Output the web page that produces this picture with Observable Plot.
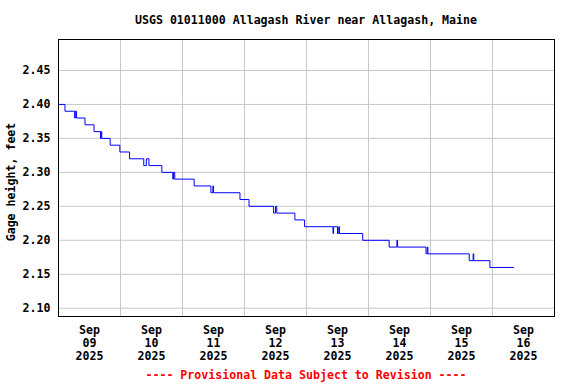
<!DOCTYPE html>
<html><head><meta charset="utf-8">
<script src="https://cdn.jsdelivr.net/npm/d3@7"></script>
<script src="https://cdn.jsdelivr.net/npm/@observablehq/plot@0.6"></script>
<style>
body{margin:0;background:#fff;}
#wrap{position:relative;width:576px;height:384px;font-family:"DejaVu Sans Mono",monospace;font-weight:bold;}
.ov{position:absolute;left:0;width:612px;text-align:center;font-size:11.6px;line-height:14px;white-space:pre;}
#title{top:13px;color:#000;}
#foot{top:368px;color:#f00;}
</style></head>
<body><div id="wrap"><div id="chart"></div>
<div class="ov" id="title">USGS 01011000 Allagash River near Allagash, Maine</div>
<div class="ov" id="foot">---- Provisional Data Subject to Revision ----</div></div>
<script>
const titleText = "USGS 01011000 Allagash River near Allagash, Maine";
const yLabel = "Gage height, feet";
const times = [
"2025-09-09T00:00","2025-09-09T02:30","2025-09-09T06:15","2025-09-09T06:30","2025-09-09T07:00",
"2025-09-09T10:15","2025-09-09T13:45","2025-09-09T16:15","2025-09-09T16:30","2025-09-09T16:45",
"2025-09-09T20:00","2025-09-09T23:45","2025-09-10T03:30","2025-09-10T09:00","2025-09-10T10:00",
"2025-09-10T11:00","2025-09-10T16:00","2025-09-10T20:15","2025-09-10T20:30","2025-09-10T21:00",
"2025-09-11T04:30","2025-09-11T11:00","2025-09-11T11:45","2025-09-11T12:00","2025-09-11T22:15",
"2025-09-12T01:45","2025-09-12T11:15","2025-09-12T12:00","2025-09-12T12:30","2025-09-12T19:30",
"2025-09-12T23:15","2025-09-13T10:15","2025-09-13T10:30","2025-09-13T12:00","2025-09-13T12:30",
"2025-09-13T12:45","2025-09-13T21:45","2025-09-14T08:00","2025-09-14T11:00","2025-09-14T11:15",
"2025-09-14T22:15","2025-09-14T22:45","2025-09-14T23:00","2025-09-15T15:00","2025-09-15T16:30",
"2025-09-15T16:45","2025-09-15T23:00","2025-09-16T08:15"];
const gage = [
2.40,2.39,2.38,2.39,2.38,
2.37,2.36,2.35,2.36,2.35,
2.34,2.33,2.32,2.31,2.32,
2.31,2.30,2.29,2.30,2.29,
2.28,2.27,2.28,2.27,2.26,
2.25,2.24,2.25,2.24,2.23,
2.22,2.21,2.22,2.21,2.22,
2.21,2.20,2.19,2.20,2.19,
2.18,2.19,2.18,2.17,2.18,
2.17,2.16,2.16];
const yTicks = [2.10,2.15,2.20,2.25,2.30,2.35,2.40,2.45];
const xTickDates = ["2025-09-09T12:00","2025-09-10T12:00","2025-09-11T12:00","2025-09-12T12:00","2025-09-13T12:00","2025-09-14T12:00","2025-09-15T12:00","2025-09-16T12:00"];
const xTickLabels = ["Sep\n09\n2025","Sep\n10\n2025","Sep\n11\n2025","Sep\n12\n2025","Sep\n13\n2025","Sep\n14\n2025","Sep\n15\n2025","Sep\n16\n2025"];
const gridDates = ["2025-09-10T00:00","2025-09-11T00:00","2025-09-12T00:00","2025-09-13T00:00","2025-09-14T00:00","2025-09-15T00:00","2025-09-16T00:00"];
const xDomain = ["2025-09-09T00:00","2025-09-17T00:00"];
const yDomain = [2.0878, 2.4956];

const data = times.map((t,i)=>({date:new Date(t), v:gage[i]}));
const tickD = xTickDates.map(t=>new Date(t));
const labelMap = new Map(tickD.map((d,i)=>[+d, xTickLabels[i]]));

const chart = Plot.plot({
  width:576, height:384,
  marginTop:39, marginBottom:68, marginLeft:58, marginRight:22,
  style:{fontFamily:'"DejaVu Sans Mono", monospace', fontWeight:"bold", fontSize:"11.6px", color:"#000", background:"#fff"},
  x:{type:"time", domain:xDomain.map(t=>new Date(t))},
  y:{domain:yDomain},
  marks:[
    Plot.gridX(gridDates.map(t=>new Date(t)), {stroke:"#c8c8c8", strokeOpacity:1, strokeWidth:1}),
    Plot.gridY(yTicks, {stroke:"#c8c8c8", strokeOpacity:1, strokeWidth:1}),
    Plot.line(data, {x:"date", y:"v", curve:"step-after", stroke:"#0000ff", strokeWidth:1}),
    Plot.frame({stroke:"#000", strokeWidth:1}),
    Plot.axisY(yTicks, {tickSize:0, tickPadding:8, tickFormat:d=>d.toFixed(2), label:null, fontSize:"11.6px"}),
    Plot.text([yLabel], {text:d=>d, frameAnchor:"left", rotate:-90, dx:-47, dy:4, textAnchor:"middle", lineAnchor:"middle", fontSize:"11.6px", fontWeight:"bold", fill:"#000"}),
    Plot.axisX(tickD, {tickSize:0, tickPadding:8, tickFormat:d=>labelMap.get(+d), label:null, lineHeight:1.12, fontSize:"11.6px"})
  ]
});
document.getElementById("chart").appendChild(chart);
</script></body></html>
